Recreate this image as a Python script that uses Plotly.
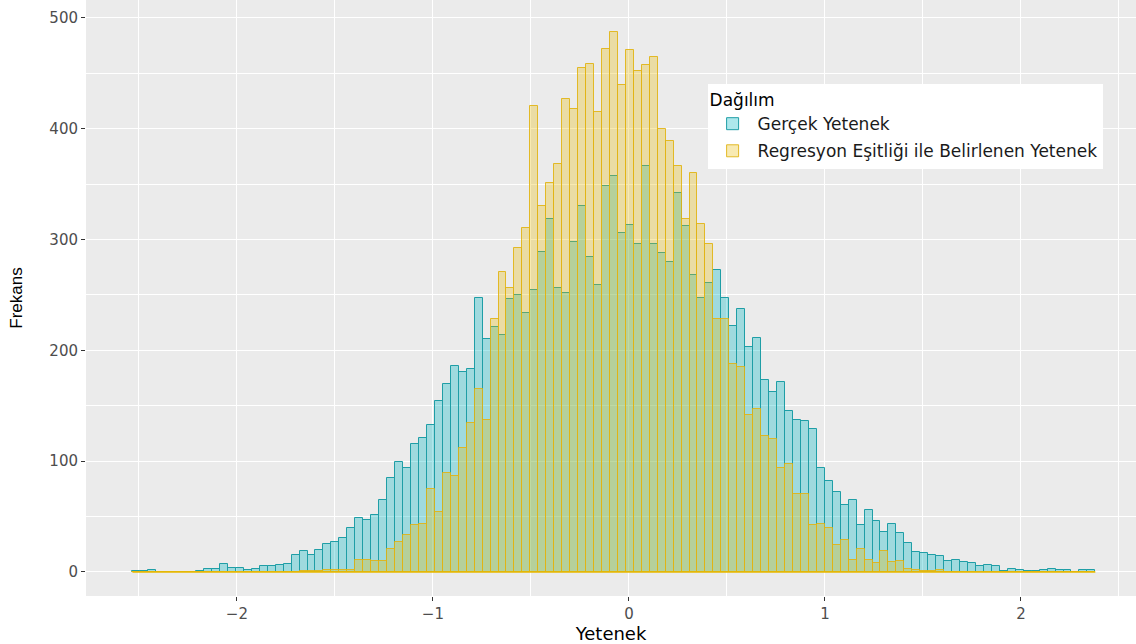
import plotly.graph_objects as go

# ---- data ----
bin_start = -2.533
bin_width = 0.0406

gercek = [1, 1, 2, 0, 0, 0, 0, 0, 1, 3,
          3, 7, 4, 4, 2, 3, 5, 5, 6, 7,
          15, 19, 15, 20, 25, 27, 31, 40, 49, 47,
          51, 65, 85, 99, 94, 115, 121, 133, 154, 170,
          186, 180, 183, 247, 210, 221, 214, 246, 250, 234,
          254, 289, 318, 256, 252, 298, 330, 284, 259, 348,
          357, 306, 313, 296, 366, 296, 288, 280, 342, 312,
          268, 247, 261, 272, 247, 222, 237, 203, 211, 173,
          162, 171, 145, 137, 136, 129, 94, 82, 72, 60,
          65, 42, 56, 46, 36, 43, 35, 26, 18, 17,
          15, 14, 10, 11, 9, 8, 5, 6, 5, 1,
          3, 2, 1, 1, 2, 3, 2, 2, 0, 2,
          2]

regresyon = [0, 0, 0, 0, 0, 0, 0, 0, 0, 0,
             0, 0, 0, 0, 0, 0, 0, 0, 0, 0,
             0, 1, 1, 1, 2, 2, 2, 2, 11, 11,
             10, 10, 21, 27, 33, 42, 43, 75, 54, 89,
             87, 112, 134, 165, 137, 228, 271, 256, 292, 310,
             420, 330, 351, 368, 427, 418, 455, 458, 415, 472,
             487, 439, 471, 452, 457, 465, 400, 389, 366, 318,
             360, 314, 296, 228, 228, 188, 185, 142, 147, 123,
             120, 94, 97, 70, 70, 42, 43, 40, 24, 29,
             11, 21, 11, 8, 19, 9, 10, 3, 2, 1,
             1, 2, 0, 0, 0, 0, 0, 0, 0, 0,
             0, 0, 0, 0, 0, 0, 0, 0, 0, 0,
             0]

series_names = ["Gerçek Yetenek", "Regresyon Eşitliği ile Belirlenen Yetenek"]
x_ticks = [-2, -1, 0, 1, 2]
y_ticks = [0, 100, 200, 300, 400, 500]

n = len(gercek)
centers = [bin_start + (i + 0.5) * bin_width for i in range(n)]
edges_end = bin_start + n * bin_width

HFONT = "DejaVu Sans, Liberation Sans, sans-serif"

fig = go.Figure()
fig.add_trace(go.Bar(
    x=centers, y=gercek, width=bin_width, name=series_names[0], legendgroup="a",
    marker=dict(color="rgba(0,185,195,0.32)", line=dict(color="#1f9ea6", width=1)),
))
fig.add_trace(go.Bar(
    x=centers, y=regresyon, width=bin_width, name=series_names[1], legendgroup="b",
    marker=dict(color="rgba(231,184,0,0.30)", line=dict(color="rgba(225,180,20,0.9)", width=1)),
))
# baseline of zero-count bins (ggplot draws their outline)
fig.add_trace(go.Scatter(
    x=[bin_start, edges_end], y=[0, 0], mode="lines",
    line=dict(color="#E7B800", width=1.5), showlegend=False, hoverinfo="skip",
))

fig.update_layout(
    barmode="overlay",
    bargap=0,
    width=1136, height=644,
    margin=dict(l=86, r=0, t=0, b=48),
    paper_bgcolor="white",
    plot_bgcolor="#EBEBEB",
    font=dict(family=HFONT, color="#4D4D4D", size=15),
    legend=dict(
        x=0.592, y=0.859, xanchor="left", yanchor="top",
        bgcolor="white", borderwidth=0,
        title=dict(text="Dağılım", font=dict(size=17, color="#000000", family=HFONT)),
        font=dict(size=17, color="#1A1A1A", family=HFONT),
        itemwidth=40,
        tracegroupgap=2,
        entrywidth=380, entrywidthmode="pixels",
    ),
    xaxis=dict(
        range=[-2.77, 2.587],
        tickvals=x_ticks,
        showgrid=True, gridcolor="white", gridwidth=1.2,
        minor=dict(dtick=0.5, tick0=0, showgrid=True, gridcolor="white", gridwidth=0.5),
        ticks="outside", ticklen=4, tickcolor="#333333", tickwidth=1,
        zeroline=False, showline=False,
        tickfont=dict(size=15, color="#4D4D4D", family=HFONT),
        title=dict(text="Yetenek", font=dict(size=18, color="#000000", family=HFONT), standoff=2),
    ),
    yaxis=dict(
        range=[-21.7, 516],
        tickvals=y_ticks,
        showgrid=True, gridcolor="white", gridwidth=1.2,
        minor=dict(dtick=50, tick0=0, showgrid=True, gridcolor="white", gridwidth=0.5),
        ticks="outside", ticklen=4, tickcolor="#333333", tickwidth=1,
        zeroline=False, showline=False,
        tickfont=dict(size=15, color="#4D4D4D", family=HFONT),
        title=dict(text="Frekans", font=dict(size=17, color="#000000",
                   family="Liberation Sans Narrow, Arial Narrow, Liberation Sans, sans-serif"),
                   standoff=22),
    ),
)

fig.write_html("out.html")
